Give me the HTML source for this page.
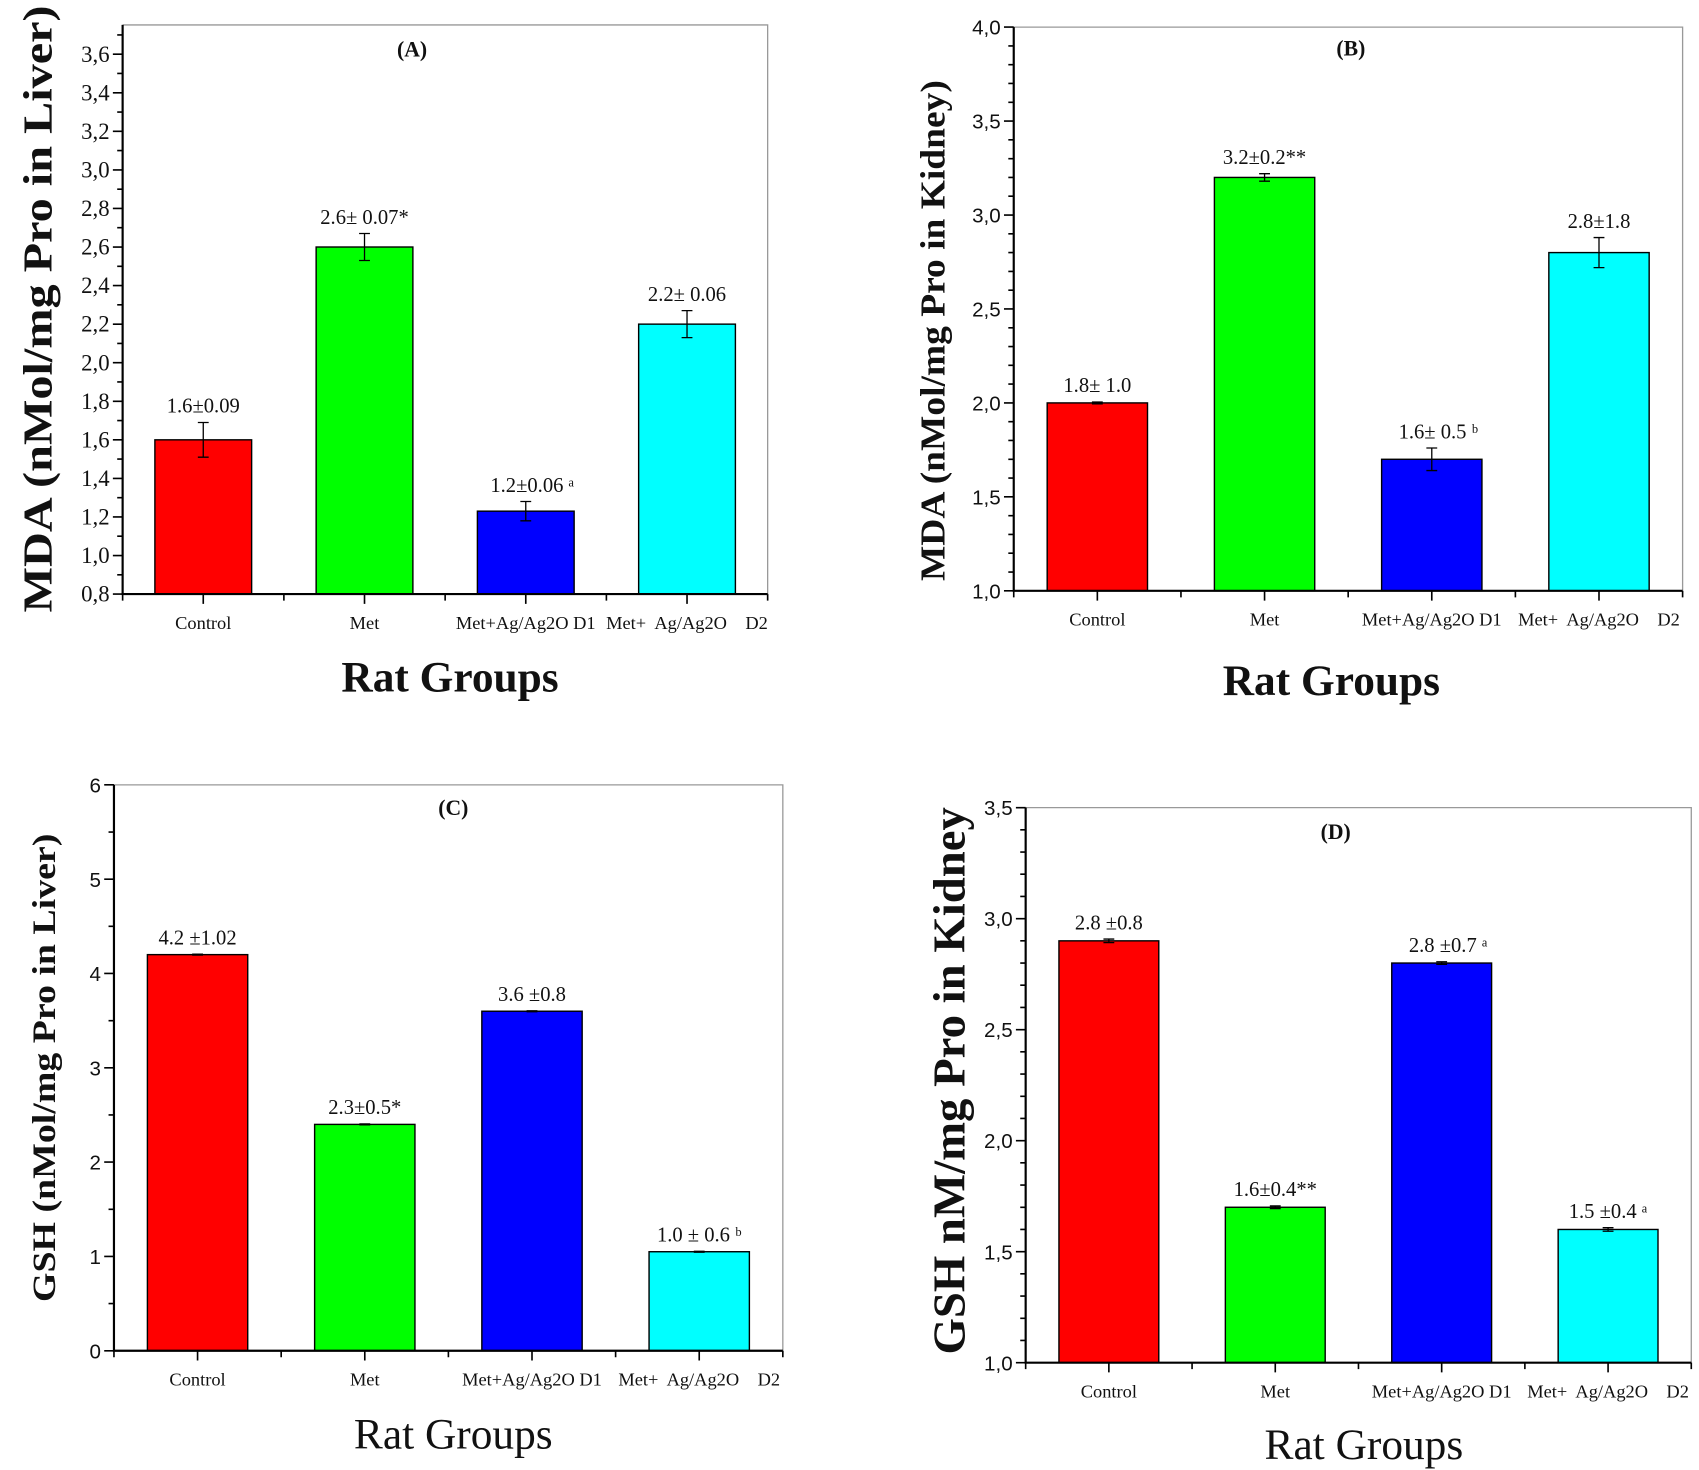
<!DOCTYPE html>
<html><head><meta charset="utf-8"><style>
html,body{margin:0;padding:0;background:#fff;}
svg{display:block;}
text{font-family:"Liberation Serif",serif;fill:#111;}
.sans{font-family:"Liberation Sans",sans-serif;}
</style></head><body>
<svg id="fig" width="1699" height="1470" viewBox="0 0 1567 1356" xmlns="http://www.w3.org/2000/svg"></svg>
<script>
const categories = ["Control","Met","Met+Ag/Ag2O D1","Met+  Ag/Ag2O    D2"];
const valuesA = [1.6, 2.6, 1.23, 2.2];
const errorsA = [0.09, 0.07, 0.05, 0.07];
const labelsA = ["1.6±0.09","2.6± 0.07*","1.2±0.06 ᵃ","2.2± 0.06"];
const ticksA = [0.8,1.0,1.2,1.4,1.6,1.8,2.0,2.2,2.4,2.6,2.8,3.0,3.2,3.4,3.6];
const valuesB = [2.0, 3.2, 1.7, 2.8];
const errorsB = [0.005, 0.02, 0.06, 0.08];
const labelsB = ["1.8± 1.0","3.2±0.2**","1.6± 0.5 ᵇ","2.8±1.8"];
const ticksB = [1.0,1.5,2.0,2.5,3.0,3.5,4.0];
const valuesC = [4.2, 2.4, 3.6, 1.05];
const errorsC = [0.005, 0.005, 0.005, 0.005];
const labelsC = ["4.2 ±1.02","2.3±0.5*","3.6 ±0.8","1.0 ± 0.6 ᵇ"];
const ticksC = [0,1,2,3,4,5,6];
const valuesD = [2.9, 1.7, 2.8, 1.6];
const errorsD = [0.008, 0.006, 0.006, 0.008];
const labelsD = ["2.8 ±0.8","1.6±0.4**","2.8 ±0.7 ᵃ","1.5 ±0.4 ᵃ"];
const ticksD = [1.0,1.5,2.0,2.5,3.0,3.5];
const colors = ["#ff0000","#00ff00","#0000ff","#00ffff"];

const NS="http://www.w3.org/2000/svg";
const svg=document.getElementById('fig');
function mk(tag,attrs,parent,txt){const e=document.createElementNS(NS,tag);for(const k in attrs)e.setAttribute(k,attrs[k]);if(txt!==undefined)e.textContent=txt;(parent||svg).appendChild(e);return e;}

const panels=[
 {id:"a",vals:valuesA,errs:errorsA,labs:labelsA,ticks:ticksA,x0:113,x1:708,yb:548,yt:23,vmin:0.8,vTop:3.6,yTopPx:50,minor:0.1,title:"(A)",tx:380,ty:52,
  ylab:"MDA (nMol/mg Pro in Liver)",ylx:34,yly:285,yll:560,ylfs:38,ybold:true,tickSans:false,tickFs:21,
  xlab:"Rat Groups",xlx:415,xly:638,xbold:true,xfs:40,fmt:v=>v.toFixed(1).replace('.',',')},
 {id:"b",vals:valuesB,errs:errorsB,labs:labelsB,ticks:ticksB,x0:935,x1:1552,yb:545,yt:25,vmin:1.0,vTop:4.0,yTopPx:25,minor:0.1,title:"(B)",tx:1246,ty:51,
  ylab:"MDA (nMol/mg Pro in Kidney)",ylx:860,yly:305,yll:462,ylfs:32,ybold:true,tickSans:true,tickFs:19,
  xlab:"Rat Groups",xlx:1228,xly:641,xbold:true,xfs:40,fmt:v=>v.toFixed(1).replace('.',',')},
 {id:"c",vals:valuesC,errs:errorsC,labs:labelsC,ticks:ticksC,x0:105,x1:722,yb:1246,yt:724,vmin:0,vTop:6,yTopPx:724,minor:0.5,title:"(C)",tx:418,ty:752,
  ylab:"GSH (nMol/mg Pro in Liver)",ylx:40,yly:985,yll:432,ylfs:30,ybold:true,tickSans:true,tickFs:19,
  xlab:"Rat Groups",xlx:418,xly:1336,xbold:false,xfs:40,fmt:v=>String(v)},
 {id:"d",vals:valuesD,errs:errorsD,labs:labelsD,ticks:ticksD,x0:946,x1:1560,yb:1257,yt:745,vmin:1.0,vTop:3.5,yTopPx:745,minor:0.1,title:"(D)",tx:1232,ty:774,
  ylab:"GSH nM/mg Pro in Kidney",ylx:875,yly:997,yll:505,ylfs:42,ybold:true,tickSans:true,tickFs:19,
  xlab:"Rat Groups",xlx:1258,xly:1346,xbold:false,xfs:40,fmt:v=>v.toFixed(1).replace('.',',')}
];

panels.forEach(p=>{
  const g=mk('g',{});
  
  
  const yScale=v=>p.yb-(v-p.vmin)/(p.vTop-p.vmin)*(p.yb-p.yTopPx);
  const step=(p.x1-p.x0)/categories.length;
  const xScale=i=>p.x0+step*(i+0.5);
  // frame
  const fr=mk('path',{d:`M${p.x0},${p.yt} H${p.x1} V${p.yb}`,fill:'none',stroke:'#999','stroke-width':1.2},g);
  
  
  // bars
  p.vals.forEach((v,i)=>{
    const w=step*0.6, x=xScale(i)-w/2, y=yScale(v);
    const r=mk('rect',{x:x,y:y,width:w,height:p.yb-y,fill:colors[i],stroke:'#000','stroke-width':1.3},g);
    
    
    const e=p.errs[i], cx=xScale(i), y1=yScale(v+e), y2=yScale(v-e);
    const eb=mk('path',{d:`M${cx},${y1}V${y2}M${cx-5},${y1}H${cx+5}M${cx-5},${y2}H${cx+5}`,stroke:'#000','stroke-width':1.2,fill:'none'},g);
    
    
    const t=mk('text',{x:cx+(i===2&&p.id!=='c'?6:0),y:y1-9,'text-anchor':'middle','font-size':19},g,p.labs[i]);
    
    
    const cl=mk('text',{x:cx,y:p.yb+32,'text-anchor':'middle','font-size':17,'xml:space':'preserve',style:'white-space:pre'},g,categories[i]);
    
    
  });
  // axes
  const ax=mk('path',{d:`M${p.x0},${p.yt}V${p.yb}H${p.x1}`,fill:'none',stroke:'#000','stroke-width':2},g);
  
  
  let d='';
  for(let i=0;i<=categories.length;i++){const x=p.x0+step*i;d+=`M${x},${p.yb}v6`;}
  for(let i=0;i<categories.length;i++){d+=`M${xScale(i)},${p.yb}v9`;}
  p.ticks.forEach(v=>{d+=`M${p.x0},${yScale(v)}h-9`;});
  const vMaxAxis=p.vmin+(p.yb-p.yt)/(p.yb-p.yTopPx)*(p.vTop-p.vmin);
  for(let v=p.vmin;v<=vMaxAxis+1e-9;v+=p.minor){d+=`M${p.x0},${yScale(v)}h-5`;}
  const tk=mk('path',{d:d,stroke:'#000','stroke-width':1.5,fill:'none'},g);
  
  
  p.ticks.forEach(v=>{
    const t=mk('text',{x:p.x0-12,y:yScale(v)+7,'text-anchor':'end','font-size':p.tickFs,class:p.tickSans?'sans':''},g,p.fmt(v));
    
    
  });
  const tt=mk('text',{x:p.tx,y:p.ty,'text-anchor':'middle','font-size':20,'font-weight':'bold'},g,p.title);
  
  
  const yl=mk('text',{x:0,y:0,'text-anchor':'middle','font-size':p.ylfs,'font-weight':p.ybold?'bold':'normal',textLength:p.yll,lengthAdjust:'spacingAndGlyphs',transform:`translate(${p.ylx+p.ylfs*0.35},${p.yly}) rotate(-90)`},g,p.ylab);
  
  
  const xl=mk('text',{x:p.xlx,y:p.xly,'text-anchor':'middle','font-size':p.xfs,'font-weight':p.xbold?'bold':'normal'},g,p.xlab);
  
  
});
</script>
</body></html>
